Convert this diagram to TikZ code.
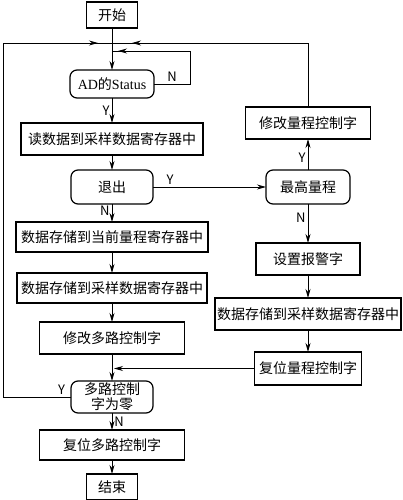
\documentclass[tikz,border=0pt]{standalone}
\usepackage{fontspec}
\newfontfamily\cjk{Noto Sans CJK SC}
\newfontfamily\latserif{Liberation Serif}
\usetikzlibrary{arrows.meta, positioning, decorations.markings}

\begin{document}
\begin{tikzpicture}[
  x=1pt, y=-1pt,
  box/.style={rectangle, draw, line width=1.2pt, inner sep=0pt, outer sep=0pt, align=center, font=\cjk\fontsize{14}{15}\selectfont},
  rbox/.style={box, rounded corners=7pt},
  arrow/.style={-{Stealth[length=9pt, width=5pt]}, line width=0.9pt},
  midarrow/.style={line width=0.9pt, postaction={decorate},
    decoration={markings, mark=at position #1 with {\arrow{Stealth[length=9pt, width=5pt]}}}},
  lbl/.style={font=\cjk\fontsize{13}{15}\selectfont, inner sep=2pt}
]
\useasboundingbox (0,0) rectangle (402,500);

% Main column
\node[box, minimum width=51pt, minimum height=26pt] (start) at (112,15) {开始};
\node[rbox, minimum width=84pt, minimum height=28pt, below=42pt of start] (ad) {{\latserif AD}的{\latserif Status}};
\node[box, minimum width=182pt, minimum height=32pt, below=25pt of ad] (read) {读数据到采样数据寄存器中};
\node[rbox, minimum width=82pt, minimum height=34pt, below=15pt of read] (quit) {退出};
\node[box, minimum width=192pt, minimum height=30pt, below=18pt of quit] (cur) {数据存储到当前量程寄存器中};
\node[box, minimum width=190pt, minimum height=30pt, below=21pt of cur] (samp) {数据存储到采样数据寄存器中};
\node[box, minimum width=145pt, minimum height=32pt, below=19pt of samp] (modm) {修改多路控制字};
\node[rbox, minimum width=82pt, minimum height=32pt, below=27pt of modm] (zero) {多路控制\\字为零};
\node[box, minimum width=145pt, minimum height=30pt, below=17pt of zero] (rstm) {复位多路控制字};
\node[box, minimum width=51pt, minimum height=26pt, below=14pt of rstm] (end) {结束};

% Right column
\node[rbox, minimum width=84pt, minimum height=34pt, right=113pt of quit] (maxr) {最高量程};
\node[box, minimum width=125pt, minimum height=32pt, above=31pt of maxr] (modr) {修改量程控制字};
\node[box, minimum width=104pt, minimum height=32pt, below=39pt of maxr] (alarm) {设置报警字};
\node[box, minimum width=186pt, minimum height=32pt, below=23pt of alarm] (samp2) {数据存储到采样数据寄存器中};
\node[box, minimum width=107pt, minimum height=33pt, below=22pt of samp2] (rst) {复位量程控制字};

% Loop points
\coordinate (jtop) at (112,43);
\coordinate (jn) at (112,51);
\coordinate (nloop) at (190,51);
\coordinate (loopL) at (3,43);
\coordinate (jrst) at ([xshift=2pt]rst.west -| zero.north);

% Flow
\draw[arrow] (start) -- (ad);
\draw[midarrow=-6pt] (ad.east) -| node[lbl, pos=0.25, above] {N} (nloop) -- (jn);
\draw[arrow] (ad) -- node[lbl, pos=0.5, left] {Y} (read);
\draw[arrow] (read) -- (quit);
\draw[arrow] (quit) -- node[lbl, pos=0.4, left] {N} (cur);
\draw[arrow] (cur) -- (samp);
\draw[arrow] (samp) -- (modm);
\draw[arrow] (modm) -- (zero);
\draw[arrow] (zero) -- node[lbl, pos=0.5, right] {N} (rstm);
\draw[arrow] (rstm) -- (end);
\draw[midarrow=-14pt] (zero.west) -| node[lbl, pos=0.07, above] {Y} (loopL) -- (jtop);

\draw[arrow] (quit.east) -- node[lbl, pos=0.15, above] {Y} (maxr.west);
\draw[arrow] (maxr) -- node[lbl, pos=0.4, left] {Y} (modr);
\draw[midarrow=-20pt] (modr.north) |- (jtop);
\draw[arrow] (maxr) -- node[lbl, pos=0.35, left] {N} (alarm);
\draw[arrow] (alarm) -- (samp2);
\draw[arrow] (samp2) -- (rst);
\draw[arrow] (rst.west) -- (jrst);

\end{tikzpicture}
\end{document}
